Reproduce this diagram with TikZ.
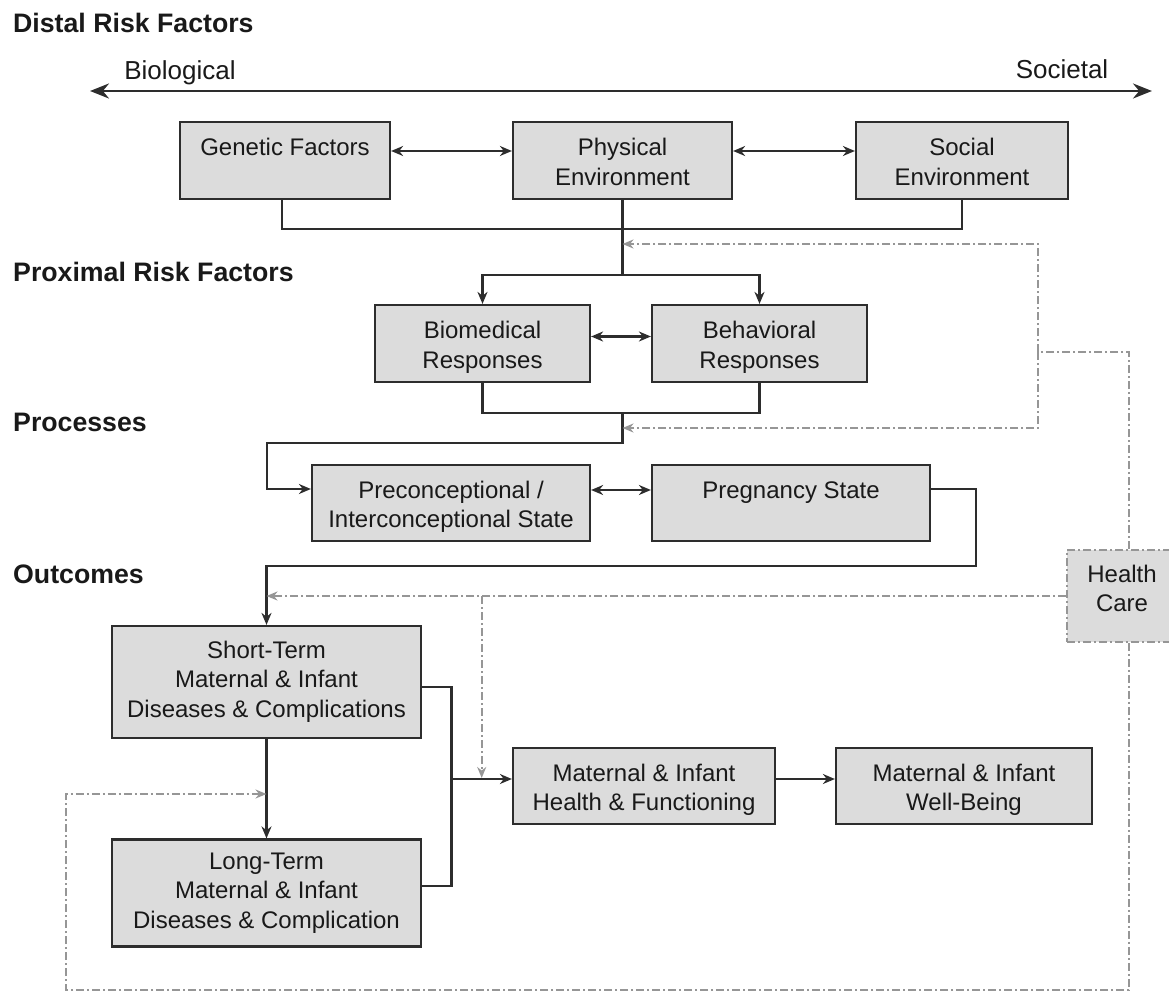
\documentclass[tikz,border=0pt]{standalone}
\usepackage{fontspec}
\setmainfont{Liberation Sans}
\usetikzlibrary{arrows.meta,calc}
\definecolor{boxfill}{RGB}{220,220,220}
\definecolor{edge}{RGB}{45,45,45}
\definecolor{hcgray}{RGB}{150,150,150}
\newcommand\tstrut{\rule{0pt}{28.6pt}}
\begin{document}
\begin{tikzpicture}[x=1pt,y=-1pt,
 box/.style={draw=edge,line width=2.2pt,fill=boxfill,rectangle,align=center,inner sep=0pt,font=\fontsize{24}{29.5}\selectfont,text=black!90},
 head/.style={anchor=base west,font=\fontsize{26.7}{30}\selectfont\bfseries,inner sep=0pt,text=black!90},
 axlabel/.style={anchor=base,font=\fontsize{26}{30}\selectfont,inner sep=0pt,text=black!90},
 conn/.style={draw=edge,line width=2.2pt},
 arr/.style={conn,-{Stealth[length=12pt,width=10pt]}},
 darr/.style={conn,{Stealth[length=12pt,width=10pt]}-{Stealth[length=12pt,width=10pt]}},
 dd/.style={draw=hcgray,line width=1.8pt,dash pattern=on 8pt off 3pt on 2pt off 3pt},
 ddarr/.style={dd,-{Stealth[length=11pt,width=9pt]}},
]
\useasboundingbox (0,0) rectangle (1169,992);

% headings
\node[head] (h1) at (13,33) {Distal Risk Factors};
\node[head] (h2) at (13,281.7) {Proximal Risk Factors};
\node[head] (h3) at (13,431.7) {Processes};
\node[head] (h4) at (13,583) {Outcomes};

% axis
\node[axlabel] (bio-l) at (180,79.5) {Biological};
\node[axlabel] (soc-l) at (1062,78.5) {Societal};
\coordinate (axL) at (90,91);
\coordinate (axR) at (1152,91);
\draw[conn,line width=2.4pt,{Stealth[length=19pt,width=15pt]}-{Stealth[length=19pt,width=15pt]}] (axL) -- (axR);

% distal boxes
\node[box,minimum width=210pt,minimum height=77pt] (gen) at (285,160.5) {\tstrut Genetic Factors\\\strut};
\node[box,minimum width=219pt,minimum height=77pt] (phys) at (622.5,160.5) {\tstrut Physical\\\strut Environment};
\node[box,minimum width=212pt,minimum height=77pt] (soc) at (962,160.5) {\tstrut Social\\\strut Environment};

% proximal boxes
\node[box,minimum width=215pt,minimum height=77pt] (bio) at (482.5,343.5) {\tstrut Biomedical\\\strut Responses};
\node[box,minimum width=215pt,minimum height=77pt] (beh) at (759.5,343.5) {\tstrut Behavioral\\\strut Responses};

% processes
\node[box,minimum width=278pt,minimum height=76pt] (pre) at (451,503) {\tstrut Preconceptional /\\\strut Interconceptional State};
\node[box,minimum width=278pt,minimum height=76pt] (preg) at (791,503) {\tstrut Pregnancy State\\\strut};

% outcomes
\node[box,minimum width=309pt,minimum height=112pt] (st) at (266.5,682) {\strut Short-Term\\\strut Maternal \& Infant\\\strut Diseases \& Complications};
\node[box,minimum width=309pt,minimum height=107pt] (lt) at (266.5,893) {\strut Long-Term\\\strut Maternal \& Infant\\\strut Diseases \& Complication};
\node[box,minimum width=262pt,minimum height=76pt] (mih) at (644,786) {\tstrut Maternal \& Infant\\\strut Health \& Functioning};
\node[box,minimum width=256pt,minimum height=76pt] (wb) at (964,786) {\tstrut Maternal \& Infant\\\strut Well-Being};

% health care
\node[box,draw=hcgray,line width=1.8pt,dash pattern=on 8pt off 3pt on 2pt off 3pt,minimum width=110pt,minimum height=92pt] (hc) at (1122,596) {\strut Health\\\rule[-18.8pt]{0pt}{20pt}Care};

% distal connectors
\draw[darr] (gen.east |- 0,151) -- (phys.west |- 0,151);
\draw[darr] (phys.east |- 0,151) -- (soc.west |- 0,151);
\coordinate (j1) at (622.5,229);
\coordinate (j2) at (622.5,275);
\draw[conn] (gen.south -| 282,0) |- (j1) -| (soc.south);
\draw[conn] (phys.south) -- (j2);
\draw[arr] (j2) -| (bio.north);
\draw[arr] (j2) -| (beh.north);

% proximal connectors
\draw[darr] (bio.east |- 0,336.5) -- (beh.west |- 0,336.5);
\coordinate (j3) at (622.5,412.7);
\coordinate (c1) at (266.7,443);
\draw[conn] (bio.south) |- (j3) -| (beh.south);
\draw[arr] (j3) |- (c1) |- (pre.west |- 0,489);

% processes connectors
\draw[darr] (pre.east |- 0,490) -- (preg.west |- 0,490);
\coordinate (c2) at (976,565.7);
\draw[arr] (preg.east |- 0,489) -| (c2) -| (st.north);

% outcomes connectors
\coordinate (c3) at (451.5,687);
\coordinate (c4) at (451.5,779);
\draw[conn] (st.east |- c3) -- (c3) |- (lt.east |- 0,886);
\draw[arr] (c4) -- (mih.west |- c4);
\draw[arr] (mih.east |- c4) -- (wb.west |- c4);
\draw[arr] (st.south) -- (lt.north);

% health care connectors (dash-dot)
\coordinate (hx) at (1129,352);
\coordinate (hy) at (1038,352);
\draw[dd] (hc.north -| hx) -- (hx) -- (hy);
\draw[ddarr] (hy) |- (622.5,244);
\draw[ddarr] (hy) |- (622.5,428);
\draw[ddarr] (hc.west) -- (st.north |- hc.west);
\draw[ddarr] (481.7,596) -- (481.7,778);
\coordinate (b1) at (66,990);
\draw[ddarr] (hc.south -| hx) |- (b1) |- (st.south |- 0,794);
\end{tikzpicture}
\end{document}
